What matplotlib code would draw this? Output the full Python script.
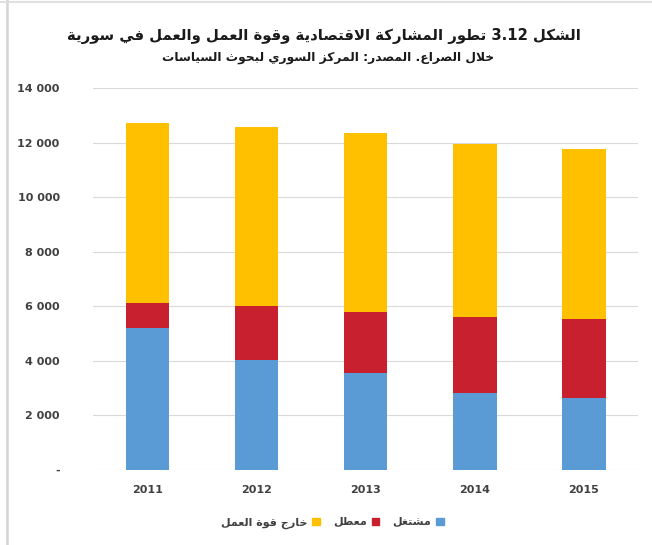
import re
import numpy as np
import matplotlib
matplotlib.use("Agg")
import matplotlib.pyplot as plt
from matplotlib.patches import Patch
from matplotlib.ticker import FuncFormatter

years = ["2011", "2012", "2013", "2014", "2015"]
employed = [5180, 4010, 3530, 2790, 2610]
unemployed = [920, 1980, 2240, 2800, 2900]
outside = [6600, 6580, 6580, 6360, 6250]

title_1 = "الشكل 3.12 تطور المشاركة الاقتصادية وقوة العمل والعمل في سورية"
title_2 = "خلال الصراع. المصدر: المركز السوري لبحوث السياسات"
labels = ["مشتغل", "معطل", "خارج قوة العمل"]
colors = ["#5B9BD5", "#C8202E", "#FFC000"]

# minimal arabic shaping, matplotlib draws glyphs as-is, left to right
DUAL = {'ئ': 0xFE89, 'ب': 0xFE8F, 'ت': 0xFE95, 'ث': 0xFE99, 'ج': 0xFE9D, 'ح': 0xFEA1,
        'خ': 0xFEA5, 'س': 0xFEB1, 'ش': 0xFEB5, 'ص': 0xFEB9, 'ض': 0xFEBD, 'ط': 0xFEC1,
        'ظ': 0xFEC5, 'ع': 0xFEC9, 'غ': 0xFECD, 'ف': 0xFED1, 'ق': 0xFED5, 'ك': 0xFED9,
        'ل': 0xFEDD, 'م': 0xFEE1, 'ن': 0xFEE5, 'ه': 0xFEE9, 'ي': 0xFEF1}
RIGHT = {'آ': 0xFE81, 'أ': 0xFE83, 'ؤ': 0xFE85, 'إ': 0xFE87, 'ا': 0xFE8D, 'ة': 0xFE93,
         'د': 0xFEA9, 'ذ': 0xFEAB, 'ر': 0xFEAD, 'ز': 0xFEAF, 'و': 0xFEED, 'ى': 0xFEEF}
LAMALEF = {'ا': 0xFEFB, 'أ': 0xFEF7, 'إ': 0xFEF9, 'آ': 0xFEF5}


def ar(text):
    toks = []
    i = 0
    while i < len(text):
        c = text[i]
        if c == 'ل' and i + 1 < len(text) and text[i + 1] in LAMALEF:
            toks.append(('LA', text[i + 1]))
            i += 2
        else:
            toks.append((c, None))
            i += 1
    out = []
    for k, (c, extra) in enumerate(toks):
        prev = toks[k - 1][0] if k > 0 else None
        nxt = toks[k + 1][0] if k + 1 < len(toks) else None
        me_prev = c in DUAL or c in RIGHT or c == 'LA'
        p = prev in DUAL and me_prev
        q = c in DUAL and nxt is not None and (nxt in DUAL or nxt in RIGHT or nxt == 'LA')
        if c == 'LA':
            out.append(chr(LAMALEF[extra] + (1 if p else 0)))
        elif c in DUAL:
            out.append(chr(DUAL[c] + (3 if p and q else 2 if q else 1 if p else 0)))
        elif c in RIGHT:
            out.append(chr(RIGHT[c] + (1 if p else 0)))
        else:
            out.append(c)
    rev = "".join(out)[::-1]
    return re.sub(r'[0-9][0-9.]*[0-9]|[0-9]', lambda m: m.group(0)[::-1], rev)


plt.rcParams['font.family'] = ['DejaVu Sans']

fig = plt.figure(figsize=(6.52, 5.45), dpi=100)
ax = fig.add_axes([0.1426, 0.1385, 0.8364, 0.7000])

x = np.arange(len(years))
w = 0.4
bottom = np.zeros(len(years))
for vals, col in zip([employed, unemployed, outside], colors):
    ax.bar(x, vals, w, bottom=bottom, color=col, zorder=3)
    bottom += np.array(vals)

ax.set_xlim(-0.5, len(years) - 0.5)
ax.set_ylim(0, 14000)
ax.set_yticks(np.arange(0, 14001, 2000))
ax.yaxis.set_major_formatter(FuncFormatter(
    lambda v, p: "-" if v == 0 else f"{int(v):,}".replace(",", " ")))
ax.set_xticks(x)
ax.set_xticklabels(years)
ax.grid(axis='y', color='#d9d9d9', lw=0.8, zorder=0)
for s in ax.spines.values():
    s.set_visible(False)
ax.tick_params(length=0, labelsize=8, labelcolor='#404040')
ax.tick_params(axis='y', pad=24)
ax.tick_params(axis='x', pad=11)
for t in ax.get_xticklabels() + ax.get_yticklabels():
    t.set_fontweight('bold')

fig.text(0.497, 1 - 36 / 545, ar(title_1), ha='center', va='center',
         fontsize=10.7, fontweight='bold', color='#1a1a1a')
fig.text(0.503, 1 - 57 / 545, ar(title_2), ha='center', va='center',
         fontsize=8.8, fontweight='bold', color='#1a1a1a')

handles = [Patch(color=c, label=ar(l)) for c, l in zip(colors, labels)][::-1]
leg = fig.legend(handles=handles, loc='center', bbox_to_anchor=(0.51, 1 - 523 / 545),
                 ncol=3, frameon=False, markerfirst=False, fontsize=8,
                 handlelength=0.7, handleheight=0.7, columnspacing=1.2, handletextpad=0.4)
for t in leg.get_texts():
    t.set_fontweight('bold')
    t.set_color('#404040')

# faint frame of the original picture (left and top edges)
fig.add_artist(plt.Line2D([7 / 652, 7 / 652], [0, 1], color='#d4d4d4', lw=1.8))
fig.add_artist(plt.Line2D([0, 1], [1 - 2 / 545, 1 - 2 / 545], color='#e0e0e0', lw=1.5))

fig.savefig("out.png", dpi=100, facecolor='white')
